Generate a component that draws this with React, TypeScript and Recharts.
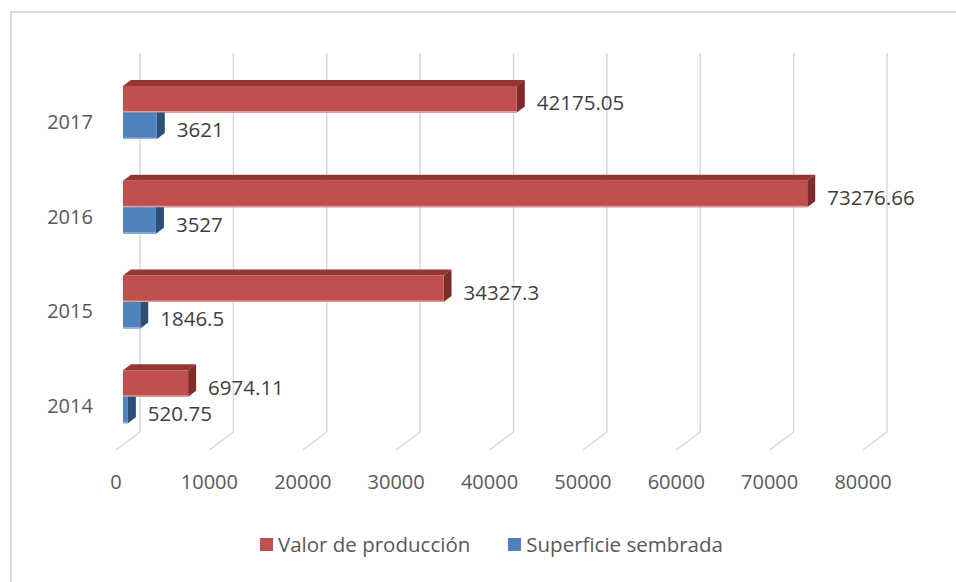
import React from 'react';
import { BarChart, Bar, XAxis, YAxis, CartesianGrid, LabelList } from 'recharts';

const years = ['2014', '2015', '2016', '2017'];
const valorProduccion = [6974.11, 34327.3, 73276.66, 42175.05];
const superficieSembrada = [520.75, 1846.5, 3527, 3621];
const xTicks = [0, 10000, 20000, 30000, 40000, 50000, 60000, 70000, 80000];
const seriesNames = ['Valor de producción', 'Superficie sembrada'];
const seriesColors = ['#C0504D', '#4F81BD'];

const data = years.map((y, i) => ({
  year: y,
  valor: valorProduccion[i],
  superficie: superficieSembrada[i],
}));

const FONT = '"Open Sans", "Noto Sans", sans-serif';
const DX = 8;
const DY = 6;

const RedShape = (props: any) => {
  const { x, y, width, height } = props;
  if (width == null || height == null) return null;
  const r = x + width;
  return (
    <g>
      <polygon points={`${x},${y} ${x + DX},${y - DY} ${r + DX},${y - DY} ${r},${y}`} fill="#933634" />
      <polygon points={`${r},${y} ${r + DX},${y - DY} ${r + DX},${y + height - DY} ${r},${y + height}`} fill="#7D2C2A" />
      <rect x={x} y={y} width={width} height={height} fill="#C0504D" />
      <rect x={x} y={y + height - 1.5} width={width} height={1.5} fill="#DE9C9A" />
    </g>
  );
};

const BlueShape = (props: any) => {
  const { x, y, width, height } = props;
  if (width == null || height == null) return null;
  const r = x + width;
  return (
    <g>
      <polygon points={`${r},${y} ${r + DX},${y} ${r + DX},${y + height - DY} ${r},${y + height}`} fill="#2D4E77" />
      <rect x={x} y={y} width={width} height={height} fill="#4F81BD" />
      <rect x={x} y={y + height - 1.5} width={width} height={1.5} fill="#8FB0DA" />
    </g>
  );
};

const ValueLabel = (props: any) => {
  const { x, y, width, height, value } = props;
  return (
    <text
      x={x + width + 20}
      y={y + height / 2 + 3}
      textAnchor="start"
      dominantBaseline="central"
      fontFamily={FONT}
      fontSize={20.5}
      fill="#404040"
    >
      {value}
    </text>
  );
};

const GridLine = (props: any) => {
  const { x1, y1, y2 } = props;
  return (
    <g key={props.key}>
      <line x1={x1 + 17} y1={y1 - 12} x2={x1 + 17} y2={y2 - 12} stroke="#D9D9D9" strokeWidth={1.5} />
      <line x1={x1 + 17} y1={y2 - 12} x2={x1 - 7} y2={y2 + 6} stroke="#D9D9D9" strokeWidth={1.5} />
    </g>
  );
};

const XTick = (props: any) => {
  const { x, y, payload } = props;
  return (
    <text
      x={x - 7}
      y={y + 29}
      textAnchor="middle"
      dominantBaseline="central"
      fontFamily={FONT}
      fontSize={20}
      fill="#595959"
    >
      {payload.value}
    </text>
  );
};

const YTick = (props: any) => {
  const { y, payload } = props;
  return (
    <text
      x={70}
      y={y + 9}
      textAnchor="middle"
      dominantBaseline="central"
      fontFamily={FONT}
      fontSize={20}
      fill="#595959"
    >
      {payload.value}
    </text>
  );
};

export default function App() {
  return (
    <div style={{ position: 'absolute', left: 0, top: 0, width: 956, height: 582, overflow: 'hidden', background: '#fff' }}>
      <div
        style={{
          position: 'absolute',
          left: 10,
          top: 11,
          width: 960,
          height: 590,
          borderLeft: '2px solid #D9D9D9',
          borderTop: '2px solid #D9D9D9',
        }}
      />
      <div style={{ position: 'absolute', left: 0, top: 0 }}>
        <BarChart
          width={956}
          height={582}
          data={data}
          layout="vertical"
          margin={{ top: 65, right: 86, bottom: 108, left: 0 }}
          barGap={0}
          barSize={26.5}
        >
          <CartesianGrid horizontal={false} vertical={GridLine} />
          <XAxis
            type="number"
            domain={[0, 80000]}
            ticks={xTicks}
            axisLine={false}
            tickLine={false}
            height={30}
            tick={XTick}
            interval={0}
          />
          <YAxis
            type="category"
            dataKey="year"
            reversed
            width={123}
            axisLine={false}
            tickLine={false}
            tick={YTick}
          />
          <Bar dataKey="valor" name={seriesNames[0]} fill={seriesColors[0]} shape={RedShape} isAnimationActive={false}>
            <LabelList dataKey="valor" content={ValueLabel} />
          </Bar>
          <Bar dataKey="superficie" name={seriesNames[1]} fill={seriesColors[1]} shape={BlueShape} isAnimationActive={false}>
            <LabelList dataKey="superficie" content={ValueLabel} />
          </Bar>
        </BarChart>
      </div>
      <div
        style={{
          position: 'absolute',
          left: 260,
          top: 530,
          display: 'flex',
          alignItems: 'center',
          fontFamily: FONT,
          fontSize: 20.5,
          color: '#595959',
          whiteSpace: 'nowrap',
        }}
      >
        {seriesNames.map((n, i) => (
          <div key={n} style={{ display: 'flex', alignItems: 'center', marginRight: i === 0 ? 38 : 0 }}>
            <div style={{ width: 13, height: 13, background: seriesColors[i], marginRight: 5 }} />
            <span>{n}</span>
          </div>
        ))}
      </div>
    </div>
  );
}
